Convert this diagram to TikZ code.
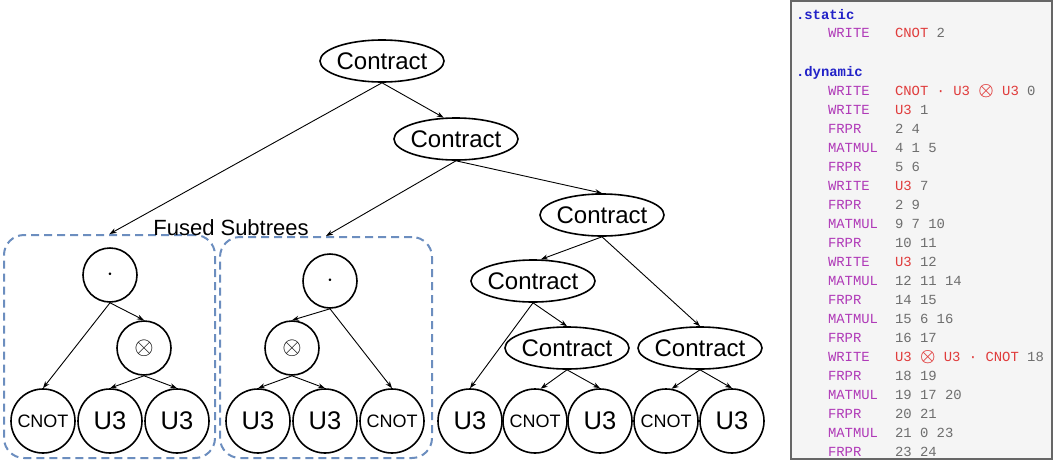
\documentclass[tikz,border=0pt]{standalone}
\usepackage{fontspec}
\usepackage{bm}
\setmainfont{Liberation Sans}
\setmonofont{Liberation Mono}
\usetikzlibrary{shapes.geometric,arrows.meta}
\definecolor{dirblue}{HTML}{2222C8}
\definecolor{insmag}{HTML}{B03AB8}
\definecolor{opred}{HTML}{E03C3C}
\definecolor{numgray}{HTML}{6E6E6E}
\definecolor{fuseblue}{HTML}{6C8EBF}
\definecolor{panelbg}{HTML}{F5F5F5}
\definecolor{panelframe}{HTML}{666666}
\newcommand\Ct{\makebox[40pt][c]{Contract}}
\newcommand\Rd[1]{\textcolor{opred}{#1}}
\newcommand\Ox{\raisebox{-0.5pt}{\fontsize{17}{17}\selectfont$\bm{\otimes}$}}
\tikzset{
  contr/.style={ellipse, draw, line width=1.6pt, minimum width=124pt, minimum height=42pt,
    inner sep=0pt, font=\fontsize{24}{24}\selectfont},
  leaf/.style={circle, draw, line width=1.6pt, minimum size=64pt, inner sep=0pt,
    font=\fontsize{25.5}{25.5}\selectfont},
  leafc/.style={leaf, font=\fontsize{18}{18}\selectfont},
  opc/.style={circle, draw, line width=1.6pt, minimum size=54pt, inner sep=0pt,
    font=\fontsize{24}{24}\selectfont},
  fused/.style={draw=fuseblue, line width=2pt, dash pattern=on 8pt off 5pt,
    rounded corners=20pt, inner sep=0pt},
  edge/.style={-{Stealth[length=7pt,width=5pt]}, line width=0.9pt},
  code/.style={anchor=base west, inner sep=0pt, outer sep=0pt,
    font=\fontsize{13.9}{16}\selectfont\ttfamily},
  ins/.style={code, text=insmag},
  ops/.style={code, text=numgray},
  dir/.style={code, text=dirblue, font=\fontsize{13.9}{16}\selectfont\ttfamily\bfseries},
}
\begin{document}
\begin{tikzpicture}[x=1pt,y=-1pt]
\useasboundingbox (0,0) rectangle (1054,461);

% fused subtree boxes
\node[fused, minimum width=211pt, minimum height=223pt] (lbox) at (109.5,346.5) {};
\node[fused, minimum width=212pt, minimum height=221pt] (rbox) at (326,347.5) {};
\node[anchor=base, inner sep=0pt, font=\fontsize{22}{22}\selectfont] (flabel) at (231,235) {Fused Subtrees};

% contract nodes
\node[contr] (c1) at (382,61) {\Ct};
\node[contr] (c2) at (456,139) {\Ct};
\node[contr] (c3) at (602,215) {\Ct};
\node[contr] (c4) at (533,281) {\Ct};
\node[contr] (c5) at (567,348) {\Ct};
\node[contr] (c6) at (700,348) {\Ct};

% left fused subtree
\node[opc] (ldot) at (110,275) {$\cdot$};
\node[opc] (lot) at (144,348) {$\otimes$};
\node[leafc] (lcnot) at (43,421) {CNOT};
\node[leaf] (lua) at (110,421) {U3};
\node[leaf] (lub) at (177,421) {U3};

% right fused subtree
\node[opc] (rdot) at (330,281) {$\cdot$};
\node[opc] (rot) at (292,348) {$\otimes$};
\node[leaf] (rua) at (258,421) {U3};
\node[leaf] (rub) at (325,421) {U3};
\node[leafc] (rcnot) at (392,421) {CNOT};

% remaining leaves
\node[leaf] (ua) at (470,421) {U3};
\node[leafc] (cna) at (535,421) {CNOT};
\node[leaf] (ub) at (600,421) {U3};
\node[leafc] (cnb) at (666,421) {CNOT};
\node[leaf] (uc) at (732,421) {U3};

% edges
\draw[edge] (c1.south) -- (lbox.north);
\draw[edge] (c1.south) -- (c2.120);
\draw[edge] (c2.south) -- (rbox.north);
\draw[edge] (c2.south) -- (c3.north);
\draw[edge] (c3.south) -- (c4.70);
\draw[edge] (c3.south) -- (c6.north);
\draw[edge] (c4.south) -- (ua.north);
\draw[edge] (c4.south) -- (c5.north);
\draw[edge] (c5.south) -- (cna.80);
\draw[edge] (c5.south) -- (ub.north);
\draw[edge] (c6.south) -- (cnb.80);
\draw[edge] (c6.south) -- (uc.north);
\draw[edge] (ldot.south) -- (lcnot.north);
\draw[edge] (ldot.south) -- (lot.north);
\draw[edge] (lot.south) -- (lua.north);
\draw[edge] (lot.south) -- (lub.north);
\draw[edge] (rdot.south) -- (rot.north);
\draw[edge] (rdot.south) -- (rcnot.north);
\draw[edge] (rot.south) -- (rua.north);
\draw[edge] (rot.south) -- (rub.north);

% code panel
\node[draw=panelframe, fill=panelbg, line width=1.5pt, minimum width=261pt,
  minimum height=458pt, inner sep=0pt] (panel) at (921.5,230) {};
\node[dir] (dstatic) at (796,19) {.static};
\node[ins] (s0i) at (828,37) {WRITE};
\node[ops] (s0o) at (895,37) {\Rd{CNOT} 2};
\node[dir] (ddyn) at (796,76) {.dynamic};
\node[ins] (d0i) at (828,95) {WRITE};   \node[ops] (d0o) at (895,95) {\Rd{CNOT · U3 \Ox{} U3} 0};
\node[ins] (d1i) at (828,114) {WRITE};  \node[ops] (d1o) at (895,114) {\Rd{U3} 1};
\node[ins] (d2i) at (828,133) {FRPR};   \node[ops] (d2o) at (895,133) {2 4};
\node[ins] (d3i) at (828,152) {MATMUL}; \node[ops] (d3o) at (895,152) {4 1 5};
\node[ins] (d4i) at (828,171) {FRPR};   \node[ops] (d4o) at (895,171) {5 6};
\node[ins] (d5i) at (828,190) {WRITE};  \node[ops] (d5o) at (895,190) {\Rd{U3} 7};
\node[ins] (d6i) at (828,209) {FRPR};   \node[ops] (d6o) at (895,209) {2 9};
\node[ins] (d7i) at (828,228) {MATMUL}; \node[ops] (d7o) at (895,228) {9 7 10};
\node[ins] (d8i) at (828,247) {FRPR};   \node[ops] (d8o) at (895,247) {10 11};
\node[ins] (d9i) at (828,266) {WRITE};  \node[ops] (d9o) at (895,266) {\Rd{U3} 12};
\node[ins] (d10i) at (828,285) {MATMUL}; \node[ops] (d10o) at (895,285) {12 11 14};
\node[ins] (d11i) at (828,304) {FRPR};   \node[ops] (d11o) at (895,304) {14 15};
\node[ins] (d12i) at (828,323) {MATMUL}; \node[ops] (d12o) at (895,323) {15 6 16};
\node[ins] (d13i) at (828,342) {FRPR};   \node[ops] (d13o) at (895,342) {16 17};
\node[ins] (d14i) at (828,361) {WRITE};  \node[ops] (d14o) at (895,361) {\Rd{U3 \Ox{} U3 · CNOT} 18};
\node[ins] (d15i) at (828,380) {FRPR};   \node[ops] (d15o) at (895,380) {18 19};
\node[ins] (d16i) at (828,399) {MATMUL}; \node[ops] (d16o) at (895,399) {19 17 20};
\node[ins] (d17i) at (828,418) {FRPR};   \node[ops] (d17o) at (895,418) {20 21};
\node[ins] (d18i) at (828,437) {MATMUL}; \node[ops] (d18o) at (895,437) {21 0 23};
\node[ins] (d19i) at (828,456) {FRPR};   \node[ops] (d19o) at (895,456) {23 24};
\end{tikzpicture}
\end{document}
